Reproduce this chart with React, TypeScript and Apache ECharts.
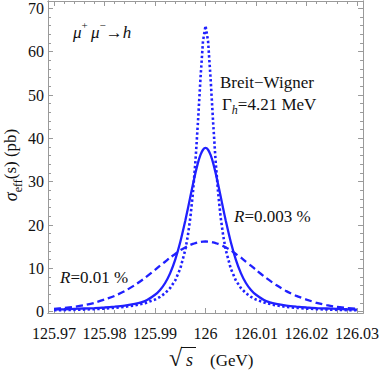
import React, { useEffect, useRef } from 'react';
import * as echarts from 'echarts';

// sqrt(s) sample points in GeV
const sqrtS = [
  125.970, 125.972, 125.974, 125.976, 125.978, 125.980, 125.982, 125.984, 125.986, 125.988,
  125.990, 125.991, 125.992, 125.993, 125.994, 125.995, 125.996, 125.9965, 125.997, 125.9975,
  125.998, 125.9985, 125.999, 125.9995, 126.000, 126.0005, 126.001, 126.0015, 126.002, 126.0025,
  126.003, 126.0035, 126.004, 126.005, 126.006, 126.007, 126.008, 126.009, 126.010, 126.012,
  126.014, 126.016, 126.018, 126.020, 126.022, 126.024, 126.026, 126.028, 126.030,
];

// Breit-Wigner (dotted), Gamma_h = 4.21 MeV
const breitWigner = [
  0.32, 0.37, 0.43, 0.50, 0.60, 0.72, 0.89, 1.12, 1.46, 1.97,
  2.80, 3.42, 4.27, 5.47, 7.23, 9.94, 14.31, 17.53, 21.77, 27.38,
  34.69, 43.77, 53.85, 62.48, 66.0, 62.48, 53.85, 43.77, 34.69, 27.38,
  21.77, 17.53, 14.31, 9.94, 7.23, 5.47, 4.27, 3.42, 2.80, 1.97,
  1.46, 1.12, 0.89, 0.72, 0.60, 0.50, 0.43, 0.37, 0.32,
];

// R = 0.003 % (solid)
const spreadR003 = [
  0.50, 0.57, 0.65, 0.74, 0.84, 0.97, 1.15, 1.40, 1.80, 2.45,
  3.90, 5.01, 6.62, 8.91, 12.04, 16.10, 21.04, 23.77, 26.57, 29.36,
  32.0, 34.34, 36.19, 37.38, 37.8, 37.38, 36.19, 34.34, 32.0, 29.36,
  26.57, 23.77, 21.04, 16.10, 12.04, 8.91, 6.62, 5.01, 3.90, 2.45,
  1.80, 1.40, 1.15, 0.97, 0.84, 0.74, 0.65, 0.57, 0.50,
];

// R = 0.01 % (dashed)
const spreadR01 = [
  0.65, 0.85, 1.12, 1.50, 2.05, 2.80, 3.65, 4.75, 6.15, 7.79,
  9.63, 10.62, 11.53, 12.50, 13.32, 14.18, 14.83, 15.13, 15.41, 15.64,
  15.84, 16.0, 16.11, 16.18, 16.2, 16.18, 16.11, 16.0, 15.84, 15.64,
  15.41, 15.13, 14.83, 14.18, 13.32, 12.50, 11.53, 10.62, 9.63, 7.79,
  6.15, 4.75, 3.65, 2.80, 2.05, 1.50, 1.12, 0.85, 0.65,
];

const xTickLabels = [125.97, 125.98, 125.99, 126, 126.01, 126.02, 126.03];
const yTickLabels = [0, 10, 20, 30, 40, 50, 60, 70];

const SERIF = "'Liberation Serif', 'Times New Roman', serif";
const BLUE = '#2020ff';
const FRAME = '#9a9a9a';

export default function App() {
  const ref = useRef<HTMLDivElement>(null);

  useEffect(() => {
    if (!ref.current) return;
    const chart = echarts.init(ref.current, null, { renderer: 'svg' });

    const X_MIN = 125.9688;
    const X_MAX = 126.0312;
    const Y_MIN = -0.3;
    const Y_MAX = 71.7;

    const xMinor: number[] = [];
    for (let i = -16; i <= 16; i++) {
      if (i % 5 === 0) continue;
      const v = Math.round((126 + i * 0.002) * 10000) / 10000;
      if (v > X_MIN && v < X_MAX) xMinor.push(v);
    }
    const yMinor: number[] = [];
    for (let v = 2; v <= 70; v += 2) {
      if (v % 10 !== 0) yMinor.push(v);
    }

    const fmtX = (v: number) => String(Number(v.toFixed(2)));

    const frameLine = { show: true, onZero: false, lineStyle: { color: FRAME, width: 1 } };

    const xAx = (pos: string, values: number[], len: number, labels: boolean) => ({
      type: 'value',
      position: pos,
      min: X_MIN,
      max: X_MAX,
      axisLine: frameLine,
      splitLine: { show: false },
      axisTick: { show: true, inside: true, length: len, customValues: values, lineStyle: { color: FRAME, width: 1 } },
      axisLabel: labels
        ? { show: true, customValues: values, formatter: fmtX, fontFamily: SERIF, fontSize: 16, color: '#111', margin: 12 }
        : { show: false },
    });
    const yAx = (pos: string, values: number[], len: number, labels: boolean) => ({
      type: 'value',
      position: pos,
      min: Y_MIN,
      max: Y_MAX,
      axisLine: frameLine,
      splitLine: { show: false },
      axisTick: { show: true, inside: true, length: len, customValues: values, lineStyle: { color: FRAME, width: 1 } },
      axisLabel: labels
        ? { show: true, customValues: values, formatter: (v: number) => String(v), fontFamily: SERIF, fontSize: 16, color: '#111', margin: 4 }
        : { show: false },
    });

    const mk = (ys: number[]) => sqrtS.map((x, i) => [x, ys[i]]);

    chart.setOption({
      animation: false,
      backgroundColor: '#fff',
      grid: { left: 48, right: 17, top: 1, bottom: 58, containLabel: false },
      xAxis: [
        xAx('bottom', xTickLabels, 5, true),
        xAx('bottom', xMinor, 3, false),
        xAx('top', xTickLabels, 5, false),
        xAx('top', xMinor, 3, false),
      ],
      yAxis: [
        yAx('left', yTickLabels, 5, true),
        yAx('left', yMinor, 3, false),
        yAx('right', yTickLabels, 5, false),
        yAx('right', yMinor, 3, false),
      ],
      series: [
        {
          name: 'Breit-Wigner', type: 'line', data: mk(breitWigner), showSymbol: false, symbol: 'none',
          xAxisIndex: 0, yAxisIndex: 0,
          lineStyle: { color: BLUE, width: 2.6, type: [2.4, 2.4] },
        },
        {
          name: 'R=0.003 %', type: 'line', data: mk(spreadR003), showSymbol: false, symbol: 'none',
          xAxisIndex: 0, yAxisIndex: 0, smooth: 0.2,
          lineStyle: { color: BLUE, width: 2.3, type: 'solid' },
        },
        {
          name: 'R=0.01 %', type: 'line', data: mk(spreadR01), showSymbol: false, symbol: 'none',
          xAxisIndex: 0, yAxisIndex: 0, smooth: 0.2,
          lineStyle: { color: BLUE, width: 2.3, type: [7, 4] },
        },
      ],
      graphic: [
        {
          type: 'text', x: 73, y: 30,
          style: {
            text: '{i|μ}{sup|+} {i|μ}{sup|−}{n|→}{i|h}',
            textVerticalAlign: 'middle',
            fill: '#111',
            rich: {
              i: { fontFamily: SERIF, fontSize: 17, fontStyle: 'italic', lineHeight: 22, verticalAlign: 'bottom' },
              n: { fontFamily: SERIF, fontSize: 17, lineHeight: 22, verticalAlign: 'bottom' },
              sup: { fontFamily: SERIF, fontSize: 11, lineHeight: 22, verticalAlign: 'top' },
            },
          },
        },
        {
          type: 'text', x: 220, y: 82,
          style: { text: 'Breit−Wigner', font: `17px ${SERIF}`, fill: '#111', textVerticalAlign: 'middle' },
        },
        {
          type: 'text', x: 222, y: 106,
          style: {
            text: '{n|Γ}{sub|h}{n|=4.21 MeV}',
            textVerticalAlign: 'middle',
            fill: '#111',
            rich: {
              n: { fontFamily: SERIF, fontSize: 17, lineHeight: 20, verticalAlign: 'top' },
              sub: { fontFamily: SERIF, fontSize: 12, fontStyle: 'italic', lineHeight: 20, verticalAlign: 'bottom' },
            },
          },
        },
        {
          type: 'text', x: 234, y: 216,
          style: {
            text: '{i|R}{n|=0.003 %}',
            textVerticalAlign: 'middle',
            fill: '#111',
            rich: {
              i: { fontFamily: SERIF, fontSize: 17, fontStyle: 'italic' },
              n: { fontFamily: SERIF, fontSize: 17 },
            },
          },
        },
        {
          type: 'text', x: 60, y: 277,
          style: {
            text: '{i|R}{n|=0.01 %}',
            textVerticalAlign: 'middle',
            fill: '#111',
            rich: {
              i: { fontFamily: SERIF, fontSize: 17, fontStyle: 'italic' },
              n: { fontFamily: SERIF, fontSize: 17 },
            },
          },
        },
        {
          type: 'text', x: 13, y: 165, rotation: Math.PI / 2,
          style: {
            text: '{i|σ}{sub|eff}{n|(s) (pb)}',
            textAlign: 'center',
            textVerticalAlign: 'middle',
            fill: '#111',
            rich: {
              i: { fontFamily: SERIF, fontSize: 18, fontStyle: 'italic', lineHeight: 22, verticalAlign: 'top' },
              sub: { fontFamily: SERIF, fontSize: 12, lineHeight: 22, verticalAlign: 'bottom' },
              n: { fontFamily: SERIF, fontSize: 17, lineHeight: 22, verticalAlign: 'top' },
            },
          },
        },
        {
          type: 'text', x: 169, y: 358,
          style: { text: '√', font: `24px ${SERIF}`, fill: '#111', textVerticalAlign: 'middle' },
        },
        {
          type: 'line', shape: { x1: 181, y1: 347.5, x2: 196, y2: 347.5 },
          style: { stroke: '#111', lineWidth: 1 },
        },
        {
          type: 'text', x: 186, y: 360,
          style: { text: 's', font: `italic 18px ${SERIF}`, fill: '#111', textVerticalAlign: 'middle' },
        },
        {
          type: 'text', x: 210, y: 360,
          style: { text: '(GeV)', font: `17px ${SERIF}`, fill: '#111', textVerticalAlign: 'middle' },
        },
      ],
    });

    return () => chart.dispose();
  }, []);

  return <div ref={ref} style={{ position: 'fixed', left: 0, top: 0, width: 382, height: 371 }} />;
}
